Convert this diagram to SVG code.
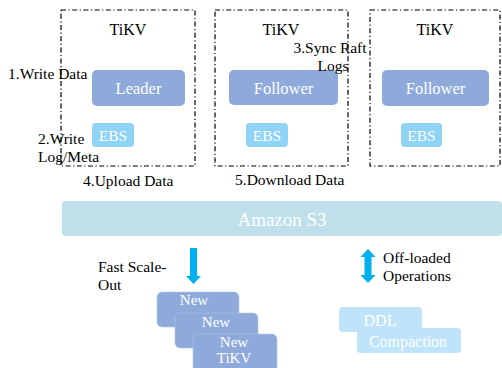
<svg xmlns="http://www.w3.org/2000/svg" width="502" height="368" viewBox="0 0 502 368">
<style>
text{font-family:"Liberation Serif","DejaVu Serif","Times New Roman",serif}
.t{font-size:15.5px;fill:#000}
.k{font-size:16px;fill:#000;text-anchor:middle}
.w{fill:#fff;text-anchor:middle}
.frame{fill:none;stroke:#000;stroke-width:1.2;stroke-dasharray:5 2.5 1.2 2.5}
.node{fill:#8eaadb}
.ebs{fill:#8fd3f5}
.light{fill:#bfe3f8}
.arr{fill:#00b0f0}
</style>
<rect width="502" height="368" fill="#fff"/>
<g id="tikv1">
<rect class="frame" x="61" y="10" width="134" height="156"/>
<text class="k" x="128" y="35">TiKV</text>
</g>
<g id="tikv2">
<rect class="frame" x="215" y="10" width="133" height="156"/>
<text class="k" x="281" y="35">TiKV</text>
</g>
<g id="tikv3">
<rect class="frame" x="370" y="10" width="130" height="156"/>
<text class="k" x="435" y="35">TiKV</text>
</g>
<g id="leader">
<rect class="node" x="92" y="70" width="93" height="36" rx="5"/>
<text class="w" x="138.5" y="94" font-size="16.5">Leader</text>
</g>
<g id="follower1">
<rect class="node" x="229" y="70" width="109" height="35" rx="5"/>
<text class="w" x="283.5" y="94" font-size="16.5">Follower</text>
</g>
<g id="follower2">
<rect class="node" x="382" y="70" width="107" height="36" rx="5"/>
<text class="w" x="435.5" y="94" font-size="16.5">Follower</text>
</g>
<g id="ebs1">
<rect class="ebs" x="92" y="123" width="42" height="24" rx="4"/>
<text class="w" x="113" y="141" font-size="15.5">EBS</text>
</g>
<g id="ebs2">
<rect class="ebs" x="246" y="123" width="42" height="24" rx="4"/>
<text class="w" x="267" y="141" font-size="15.5">EBS</text>
</g>
<g id="ebs3">
<rect class="ebs" x="401" y="123" width="41" height="24" rx="4"/>
<text class="w" x="421.5" y="141" font-size="15.5">EBS</text>
</g>
<g id="labels">
<text class="t" x="8" y="79">1.Write Data</text>
<text class="t" x="38" y="144">2.Write</text>
<text class="t" x="38" y="162">Log/Meta</text>
<text class="t" x="83" y="186">4.Upload Data</text>
<text class="t" x="330" y="53" text-anchor="middle">3.Sync Raft</text>
<text class="t" x="333" y="71" text-anchor="middle">Logs</text>
<text class="t" x="235" y="185">5.Download Data</text>
<text class="t" x="98" y="272">Fast Scale-</text>
<text class="t" x="98" y="290">Out</text>
<text class="t" x="383" y="263">Off-loaded</text>
<text class="t" x="383" y="281">Operations</text>
</g>
<g id="s3">
<rect x="62" y="201" width="440" height="35" rx="4" fill="#bfe0ea"/>
<text class="w" x="282" y="226" font-size="19">Amazon S3</text>
</g>
<g id="connectors">
<path class="arr" d="M190 248 H197 V276 H201 L193.5 284 L186 276 H190 Z"/>
<path class="arr" d="M368 249 L375.5 257 H371.5 V275 H375.5 L368 283 L360.5 275 H364.5 V257 H360.5 Z"/>
</g>
<g id="new1">
<rect class="node" x="157" y="292" width="82" height="35" rx="5" stroke="#b4c6e7" stroke-width="0.6"/>
<text class="w" x="194" y="305" font-size="15">New</text>
</g>
<g id="new2">
<rect class="node" x="175" y="313" width="83" height="35" rx="5" stroke="#b4c6e7" stroke-width="0.6"/>
<text class="w" x="216" y="327" font-size="15">New</text>
</g>
<g id="new3">
<rect class="node" x="193" y="334" width="84" height="40" rx="5" stroke="#b4c6e7" stroke-width="0.6"/>
<text class="w" x="234" y="347" font-size="15">New</text>
<text class="w" x="234" y="363" font-size="15">TiKV</text>
</g>
<g id="ddl">
<rect class="light" x="339" y="307" width="83" height="25" rx="4"/>
<text class="w" x="380" y="326" font-size="16">DDL</text>
</g>
<g id="compaction">
<rect class="light" x="357" y="328" width="104" height="25" rx="4"/>
<text class="w" x="408" y="347" font-size="16">Compaction</text>
</g>
</svg>
